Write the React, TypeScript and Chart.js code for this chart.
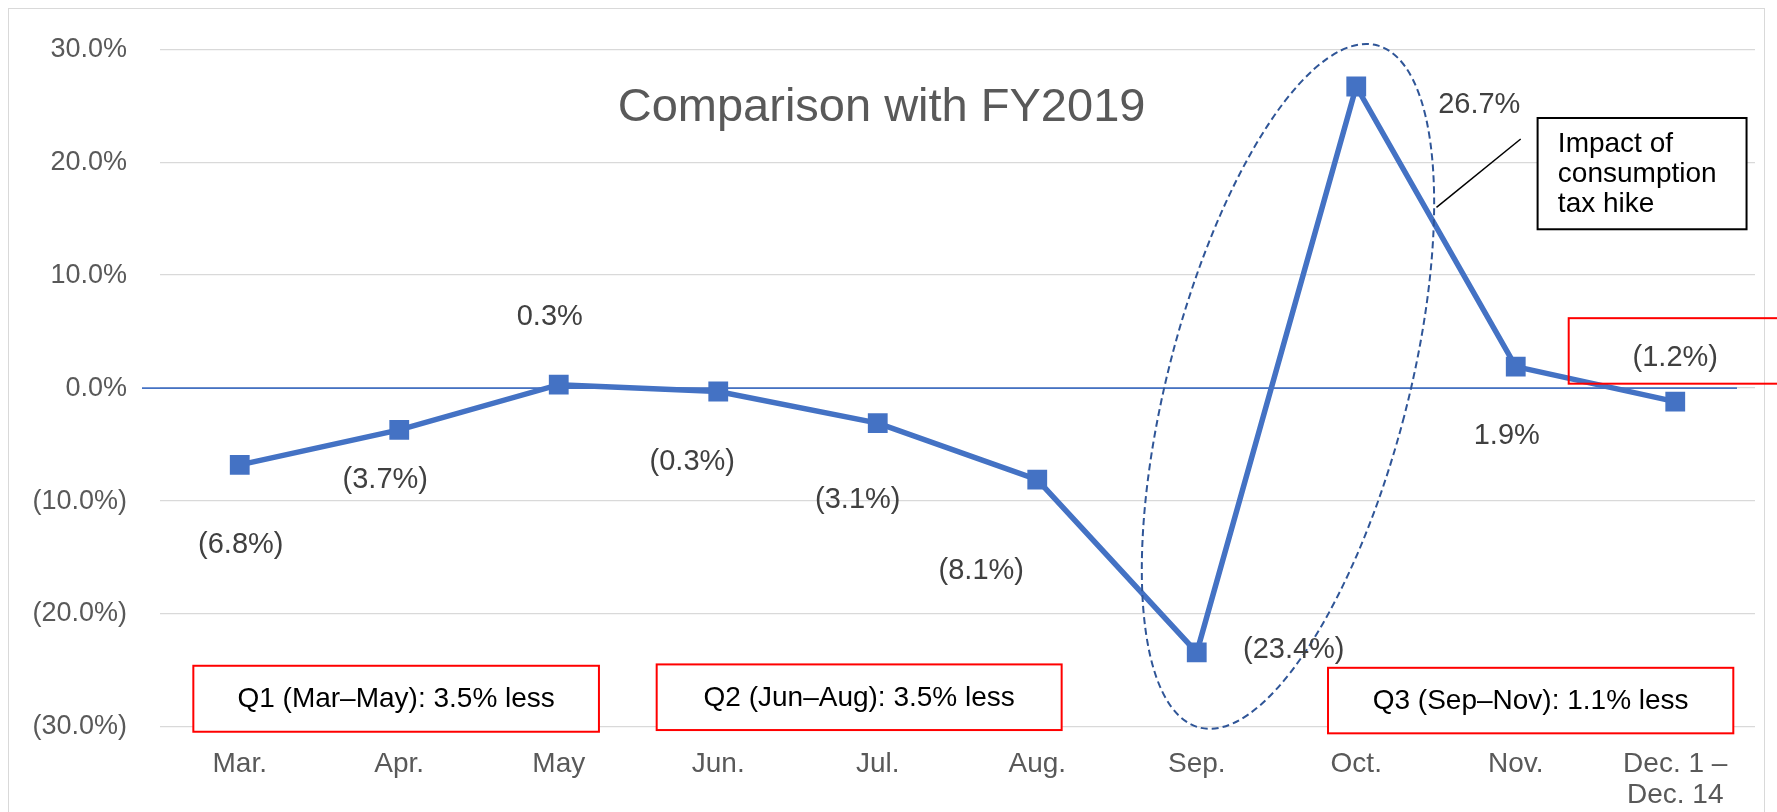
import React, { useEffect, useRef } from 'react';
import { Chart, registerables } from 'chart.js';

Chart.register(...registerables);

// ---------- data ----------
const categories: (string | string[])[] = ['Mar.', 'Apr.', 'May', 'Jun.', 'Jul.', 'Aug.', 'Sep.', 'Oct.', 'Nov.', ['Dec. 1 –', 'Dec. 14']];
const changeVsFY2019 = [-6.8, -3.7, 0.3, -0.3, -3.1, -8.1, -23.4, 26.7, 1.9, -1.2];
const yMin = -30;
const yMax = 30;
const yStep = 10;
const chartTitle = 'Comparison with FY2019';
const quarterNotes = ['Q1 (Mar–May): 3.5% less', 'Q2 (Jun–Aug): 3.5% less', 'Q3 (Sep–Nov): 1.1% less'];
const calloutLines = ['Impact of', 'consumption', 'tax hike'];

// ---------- styling / placement (not data) ----------
const FONT = "'Liberation Sans', Arial, Helvetica, sans-serif";
const BLUE = '#4472C4';
// label offsets in px from each point
const labelOffsets: [number, number][] = [[1, 80], [-14, 50], [-9, -68], [-26, 71], [-20, 77], [-56, 91], [97, -2], [123, 19], [-9, 69], [0, -44]];
// boxes in (category index, value) space: [x0, x1, yTop, yBottom]
const quarterBoxes: [number, number, number, number][] = [
  [-0.291, 2.252, -24.58, -30.42],
  [2.614, 5.153, -24.46, -30.27],
  [6.823, 9.364, -24.76, -30.56],
];
const lastLabelBox: [number, number, number, number] = [8.332, 10.6, 6.19, 0.39];
const calloutBox: [number, number, number, number] = [8.137, 9.447, 23.91, 14.06];

const fmt = (v: number) => (v < 0 ? `(${Math.abs(v).toFixed(1)}%)` : `${v.toFixed(1)}%`);

const annotations = {
  id: 'annotations',
  beforeDraw(chart: any) {
    const { ctx } = chart;
    ctx.save();
    ctx.strokeStyle = '#d9d9d9';
    ctx.lineWidth = 1;
    ctx.strokeRect(8.5, 8.5, 1756, 900);
    ctx.restore();
  },
  beforeDatasetsDraw(chart: any) {
    const { ctx, scales } = chart;
    const x = scales.x, y = scales.y;
    const p0 = x.getPixelForValue(0), p1 = x.getPixelForValue(1);
    const X = (i: number) => p0 + i * (p1 - p0);
    const Y = (v: number) => y.getPixelForValue(v);
    // zero line
    ctx.save();
    ctx.strokeStyle = BLUE;
    ctx.lineWidth = 1.8;
    ctx.beginPath();
    ctx.moveTo(X(-0.613), Y(0));
    ctx.lineTo(X(9.387), Y(0));
    ctx.stroke();
    ctx.restore();
  },
  afterDatasetsDraw(chart: any) {
    const { ctx, scales } = chart;
    const x = scales.x, y = scales.y;
    const p0 = x.getPixelForValue(0), p1 = x.getPixelForValue(1);
    const pxCat = p1 - p0;
    const X = (i: number) => p0 + i * pxCat;
    const Y = (v: number) => y.getPixelForValue(v);
    const pxUnit = Math.abs(Y(1) - Y(0));

    ctx.save();
    // dashed ellipse
    ctx.strokeStyle = '#2F5597';
    ctx.lineWidth = 2;
    ctx.setLineDash([7, 4]);
    ctx.beginPath();
    ctx.ellipse(X(6.572), Y(0.15), 0.752 * pxCat, 31.2 * pxUnit, (14.6 * Math.PI) / 180, 0, Math.PI * 2);
    ctx.stroke();
    ctx.setLineDash([]);

    // data labels
    const meta = chart.getDatasetMeta(0);
    ctx.fillStyle = '#404040';
    ctx.font = `29px ${FONT}`;
    ctx.textAlign = 'center';
    ctx.textBaseline = 'middle';
    meta.data.forEach((pt: any, i: number) => {
      const [dx, dy] = labelOffsets[i];
      ctx.fillText(fmt(changeVsFY2019[i]), pt.x + dx, pt.y + dy);
    });

    // title
    ctx.fillStyle = '#595959';
    ctx.font = `47px ${FONT}`;
    ctx.textAlign = 'center';
    ctx.textBaseline = 'alphabetic';
    ctx.fillText(chartTitle, X(4.024), Y(23.63));

    // quarter boxes
    ctx.lineWidth = 2;
    quarterBoxes.forEach((b, i) => {
      const l = X(b[0]), r = X(b[1]), t = Y(b[2]), bt = Y(b[3]);
      ctx.fillStyle = '#ffffff';
      ctx.fillRect(l, t, r - l, bt - t);
      ctx.strokeStyle = '#FF0000';
      ctx.strokeRect(l, t, r - l, bt - t);
      ctx.fillStyle = '#000000';
      ctx.font = `28px ${FONT}`;
      ctx.textAlign = 'center';
      ctx.textBaseline = 'middle';
      ctx.fillText(quarterNotes[i], (l + r) / 2, (t + bt) / 2 + 1);
    });

    // red box around last label
    {
      const b = lastLabelBox;
      const l = X(b[0]), r = X(b[1]), t = Y(b[2]), bt = Y(b[3]);
      ctx.strokeStyle = '#FF0000';
      ctx.lineWidth = 2;
      ctx.strokeRect(l, t, r - l, bt - t);
    }

    // callout box
    {
      const b = calloutBox;
      const l = X(b[0]), r = X(b[1]), t = Y(b[2]), bt = Y(b[3]);
      ctx.fillStyle = '#ffffff';
      ctx.fillRect(l, t, r - l, bt - t);
      ctx.strokeStyle = '#000000';
      ctx.lineWidth = 2;
      ctx.strokeRect(l, t, r - l, bt - t);
      ctx.fillStyle = '#000000';
      ctx.font = `28px ${FONT}`;
      ctx.textAlign = 'left';
      ctx.textBaseline = 'alphabetic';
      const baselines = [20.87, 18.21, 15.56];
      calloutLines.forEach((s, i) => ctx.fillText(s, X(8.264), Y(baselines[i])));
      // leader line
      ctx.lineWidth = 1.5;
      ctx.beginPath();
      ctx.moveTo(X(8.031), Y(22.05));
      ctx.lineTo(X(7.503), Y(16.0));
      ctx.stroke();
    }
    ctx.restore();
  },
};

export default function App() {
  const ref = useRef<HTMLCanvasElement>(null);
  useEffect(() => {
    const chart = new Chart(ref.current as HTMLCanvasElement, {
      type: 'line',
      data: {
        labels: categories as any,
        datasets: [
          {
            label: 'Comparison with FY2019',
            data: changeVsFY2019,
            borderColor: BLUE,
            backgroundColor: BLUE,
            borderWidth: 5.5,
            pointStyle: 'rect',
            pointRadius: 14,
            pointBorderWidth: 0,
            pointBackgroundColor: BLUE,
            tension: 0,
            fill: false,
          },
        ],
      },
      options: {
        responsive: false,
        animation: false,
        devicePixelRatio: 1,
        layout: { padding: { top: 48, right: 22, left: 0, bottom: 0 } },
        plugins: { legend: { display: false }, tooltip: { enabled: false }, title: { display: false } },
        scales: {
          x: {
            offset: true,
            grid: { display: false },
            border: { display: false },
            ticks: {
              color: '#595959',
              font: { family: FONT, size: 28, lineHeight: 1.1 },
              padding: 14,
              maxRotation: 0,
              autoSkip: false,
            },
            afterFit: (s: any) => {
              s.height = 85;
            },
          },
          y: {
            min: yMin,
            max: yMax,
            grid: { color: '#d9d9d9', lineWidth: 1.3, drawTicks: false },
            border: { display: false },
            ticks: {
              stepSize: yStep,
              color: '#595959',
              font: { family: FONT, size: 27 },
              padding: 33,
              callback: (v: any) => fmt(Number(v)),
            },
            afterFit: (s: any) => {
              s.width = 160;
            },
          },
        },
      },
      plugins: [annotations],
    } as any);
    return () => chart.destroy();
  }, []);
  return (
    <div style={{ position: 'fixed', left: 0, top: 0, width: 1777, height: 812, background: '#ffffff' }}>
      <canvas ref={ref} width={1777} height={812} style={{ display: 'block', width: 1777, height: 812 }} />
    </div>
  );
}
